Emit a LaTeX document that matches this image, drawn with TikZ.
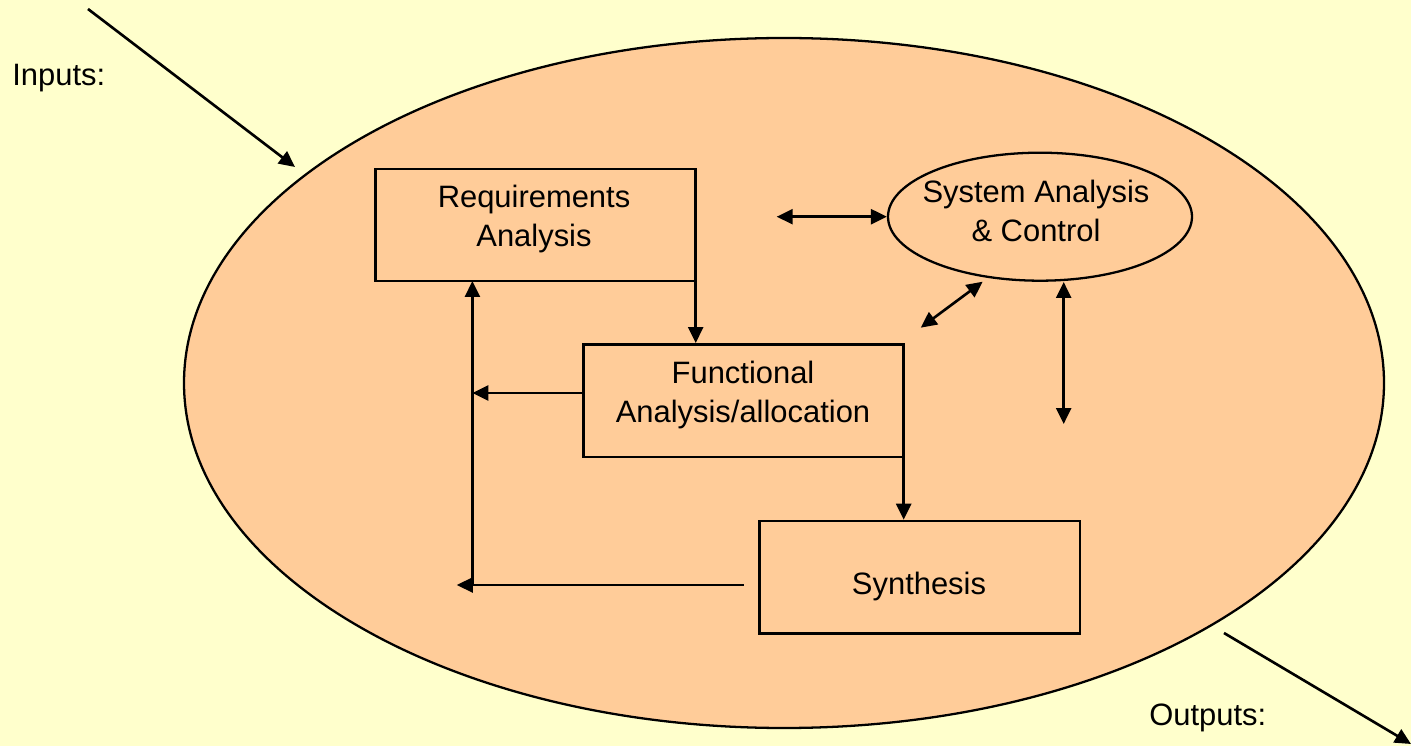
\documentclass[tikz,border=0pt]{standalone}
\usepackage{fontspec}
\setmainfont{Liberation Sans}
\usetikzlibrary{arrows.meta,shapes.geometric}
\definecolor{paper}{HTML}{FFFFCC}
\definecolor{peach}{HTML}{FFCC99}
\tikzset{
  wire/.style={line width=1.5pt, draw=black},
  tip/.style={-{Triangle[length=0.32cm,width=0.3cm]}},
  dtip/.style={{Triangle[length=0.32cm,width=0.3cm]}-{Triangle[length=0.32cm,width=0.3cm]}},
  stepbox/.style={draw=black, line width=1.5pt, fill=peach, rectangle, inner sep=0pt},
  lbl/.style={font=\fontsize{17.6}{22}\selectfont, align=center, inner sep=0pt},
}
\begin{document}
\begin{tikzpicture}[x=0.02cm, y=-0.02cm]
  % page
  \fill[paper] (0,0) rectangle (1411,746);
  \useasboundingbox (0,0) rectangle (1411,746);

  % outer process ellipse
  \node[draw=black, line width=1.3pt, fill=peach, ellipse, inner sep=0pt,
        minimum width=1200*0.02cm, minimum height=690*0.02cm] (proc) at (784,383) {};

  % step boxes
  \node[stepbox, minimum width=320*0.02cm, minimum height=112*0.02cm] (req) at (535.7,225) {};
  \node[stepbox, minimum width=320.4*0.02cm, minimum height=112.7*0.02cm] (fun) at (743.5,400.7) {};
  \node[stepbox, minimum width=320.5*0.02cm, minimum height=112.3*0.02cm] (syn) at (919.8,577.2) {};
  \node[draw=black, line width=1.3pt, fill=peach, ellipse, inner sep=0pt,
        minimum width=304*0.02cm, minimum height=128*0.02cm] (sac) at (1040,216.7) {};

  % labels
  \node[lbl] (reqt) at (534,219) {Requirements\\Analysis};
  \node[lbl] (funt) at (743,395) {Functional\\Analysis/allocation};
  \node[lbl] (synt) at (919,587) {Synthesis};
  \node[lbl] (sact) at (1036,211) {System Analysis\\\& Control};
  \node[lbl, anchor=west] (inp) at (12,78) {Inputs:};
  \node[lbl, anchor=west] (outp) at (1149,718) {Outputs:};

  % free ends of connectors
  \coordinate (inA) at (88,9);
  \coordinate (inB) at (295,167);
  \coordinate (outA) at (1224,633);
  \coordinate (outB) at (1411,744);
  \coordinate (rq1) at (695.7,281);
  \coordinate (fn1) at (903.7,457.4);
  \coordinate (fbA) at (583.3,393);
  \coordinate (fbB) at (472.4,393);
  \coordinate (syA) at (743.8,585);
  \coordinate (syB) at (456.8,585);
  \coordinate (col) at (472.4,585);
  \coordinate (rqb) at (472.4,281);
  \coordinate (hA) at (776.7,216.7);
  \coordinate (dA) at (920.7,327.7);
  \coordinate (dB) at (982.7,281.7);
  \coordinate (vA) at (1063.7,282);
  \coordinate (vB) at (1063.7,424);

  % inputs and outputs
  \draw[wire, tip] (inA) -- (inB);
  \draw[wire, tip] (outA) -- (outB);

  % flow between the steps
  \draw[wire, tip] (rq1) -- (rq1 |- fun.north);
  \draw[wire, tip] (fn1) -- (fn1 |- syn.north);
  \draw[wire, tip] (fbA) -- (fbB);
  \draw[wire, tip] (syA) -- (syB);
  \draw[wire, tip] (col) -- (rqb);

  % control loop links
  \draw[wire, dtip] (hA) -- (sac.west);
  \draw[wire, dtip] (dA) -- (dB);
  \draw[wire, dtip] (vA) -- (vB);
\end{tikzpicture}
\end{document}
